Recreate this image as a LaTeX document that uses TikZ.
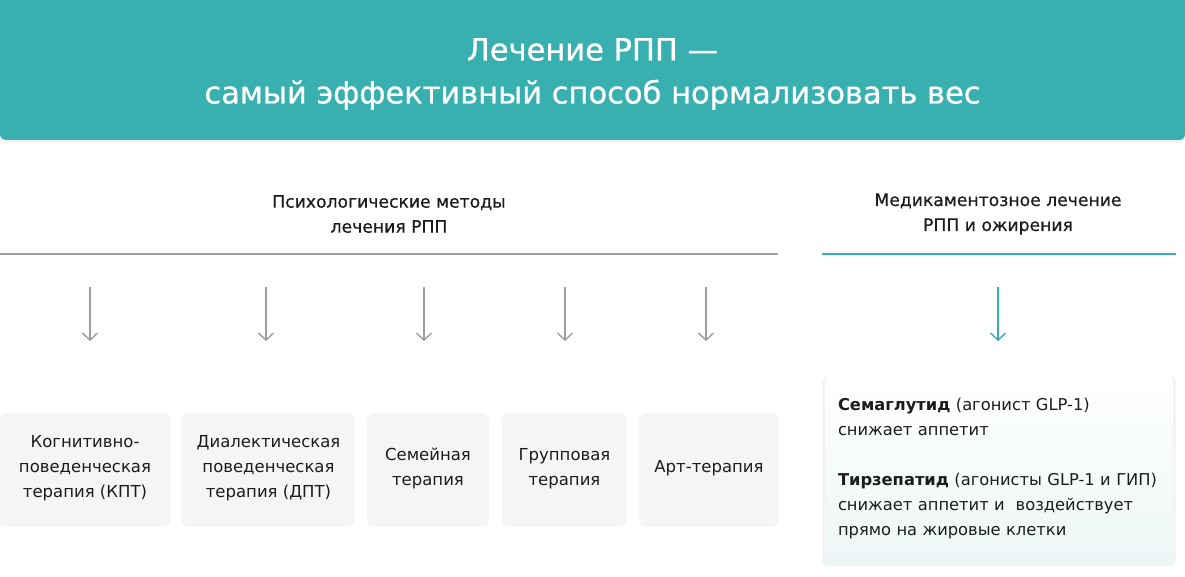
\documentclass[tikz,border=0pt]{standalone}
\usepackage{fontspec}
\setmainfont{DejaVu Sans}
\usetikzlibrary{arrows.meta, shadows}
\definecolor{rppteal}{HTML}{38B0AF}
\definecolor{boxgray}{HTML}{F5F5F5}
\definecolor{linegray}{HTML}{9E9E9E}
\definecolor{txt}{HTML}{1C1C1C}
\definecolor{mint}{HTML}{EDF6F6}

\begin{document}
\begin{tikzpicture}[x=1pt, y=-1pt,
    method/.style={fill=boxgray, rounded corners=6pt, minimum height=111pt, align=center,
        font=\fontsize{16.5}{25}\selectfont, text=txt, inner sep=0pt,
        drop shadow={shadow xshift=0pt, shadow yshift=-2pt, shadow scale=1.015, opacity=0.07}},
    down/.style={line width=1.4pt, -{Straight Barb[length=7pt, width=15pt]}},
    title/.style={font=\fontsize{17.2}{25}\selectfont\addfontfeature{FakeBold=0.6}, text=txt, align=center}]
    \useasboundingbox (0,0) rectangle (1185,577);
    \clip (0,0) rectangle (1185,577);
    % banner
    \fill[black, opacity=0.05] (0,-10) [rounded corners=6pt] rectangle (1185,143);
    \fill[rppteal] (0,-10) [rounded corners=6pt] rectangle (1185,140);
    \node[text=white, align=center, font=\fontsize{30.5}{43}\selectfont\addfontfeature{FakeBold=0.8}] (head) at (592.5,74)
        {Лечение РПП —\\самый эффективный способ нормализовать вес};
    % two branches
    \node[title] (psy) at (389,214) {Психологические методы\\лечения РПП};
    \node[title] (med) at (998,214) {Медикаментозное лечение\\РПП и ожирения};
    \coordinate (psyL) at (0,254);   \coordinate (psyR) at (778,254);
    \coordinate (medL) at (822,254); \coordinate (medR) at (1176,254);
    \draw[linegray, line width=1.4pt] (psyL) -- (psyR);
    \draw[rppteal, line width=1.4pt] (medL) -- (medR);
    % methods
    \node[method, minimum width=170pt] (kpt) at (85,468.5) {Когнитивно-\\поведенческая\\терапия (КПТ)};
    \node[method, minimum width=171pt] (dpt) at (268.5,468.5) {Диалектическая\\поведенческая\\терапия (ДПТ)};
    \node[method, minimum width=120pt] (fam) at (428,468.5) {Семейная\\терапия};
    \node[method, minimum width=123pt] (grp) at (564.5,468.5) {Групповая\\терапия};
    \node[method, minimum width=138pt] (art) at (709,468.5) {Арт-терапия};
    \foreach \x [count=\i] in {90,266,424,565,706} {
        \coordinate (top\i) at (\x,287);
        \coordinate (tip\i) at (\x,341);
        \draw[down, linegray] (top\i) -- (tip\i);
    }
    % drugs
    \coordinate (top6) at (998,287);
    \coordinate (tip6) at (998,341);
    \draw[down, rppteal] (top6) -- (tip6);
    \node[rounded corners=6pt, top color=white, bottom color=mint, minimum width=348pt,
        minimum height=188pt, text width=322pt, inner sep=13pt, align=left,
        font=\fontsize{16.3}{25}\selectfont, text=txt,
        drop shadow={shadow xshift=0pt, shadow yshift=-2pt, shadow scale=1.015, opacity=0.1}] (drug) at (999,469)
        {\textbf{Семаглутид} (агонист GLP-1)\\снижает аппетит\\[25pt]
         \textbf{Тирзепатид} (агонисты GLP-1 и ГИП)\\снижает аппетит и\ \ воздействует\\прямо на жировые клетки};
\end{tikzpicture}
\end{document}
